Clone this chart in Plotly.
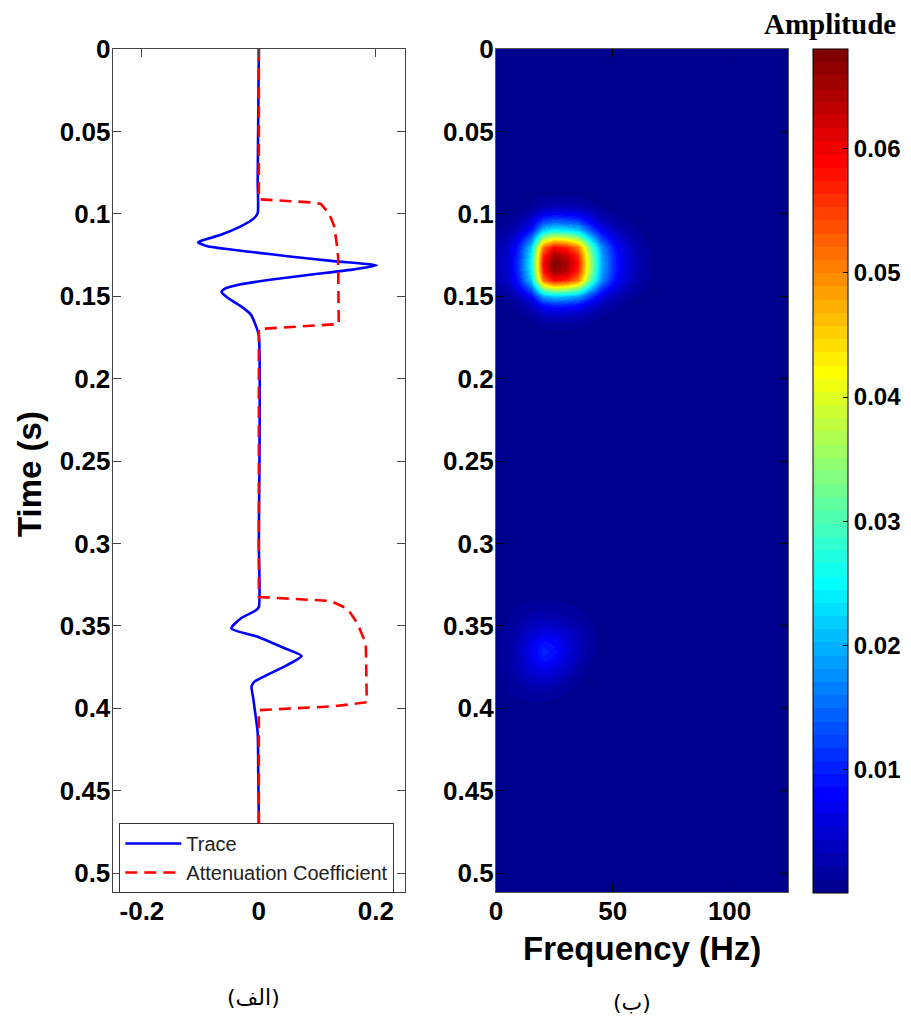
import numpy as np
import plotly.graph_objects as go

# ---------------- data: left panel ----------------
trace_t = [0.000, 0.080, 0.0996, 0.1026, 0.1076, 0.1127, 0.1157, 0.1173, 0.1197, 0.1217,
           0.1237, 0.1257, 0.1287, 0.1313, 0.1337, 0.1367, 0.1397, 0.1428, 0.1458, 0.1474,
           0.1508, 0.1560, 0.1610, 0.1680, 0.1740, 0.300, 0.3386, 0.3406, 0.3456, 0.3516,
           0.3566, 0.3627, 0.3683, 0.3737, 0.3797, 0.3837, 0.3867, 0.3930, 0.4008, 0.4149,
           0.4400, 0.4700, 0.5120]
trace_amp = [0.000, -0.002, -0.002, -0.008, -0.031, -0.065, -0.093, -0.104, -0.088, -0.048,
             0.000, 0.049, 0.128, 0.2017, 0.163, 0.094, 0.026, -0.031, -0.060, -0.064,
             -0.054, -0.031, -0.014, -0.005, 0.000, 0.000, 0.000, -0.005, -0.031, -0.047,
             -0.002, 0.038, 0.073, 0.049, 0.015, -0.007, -0.0125, -0.010, -0.007, -0.002,
             -0.001, 0.000, 0.000]

atten_t = [0.000, 0.0912, 0.0932, 0.0940, 0.0996, 0.1076, 0.1177, 0.1260, 0.1669, 0.1699,
           0.3325, 0.3349, 0.3396, 0.3486, 0.3607, 0.3964, 0.3988, 0.4012, 0.5120]
atten_val = [0.000, 0.000, 0.0946, 0.106, 0.120, 0.129, 0.133, 0.1356, 0.1366, 0.000,
             0.000, 0.123, 0.1516, 0.1687, 0.183, 0.1846, 0.129, 0.000, 0.000]

# ---------------- data: right panel (time-frequency amplitude) ----------------
freq_hz = [0, 5, 10, 15, 20, 25, 30, 35, 40, 45, 50, 55, 60, 65, 70, 75, 80, 85, 90, 95,
           100, 105, 110, 115, 120, 125]
time_step = 0.005
time_s = list(np.round(np.arange(0, 0.5151, time_step), 3))
background_amp = 0.0004

patch1_t0 = 0.090   # rows every 0.005 s, columns 0..65 Hz
patch1 = [
    [0.0004, 0.0004, 0.0004, 0.0006, 0.0013, 0.0015, 0.0014, 0.0013, 0.0008, 0.0004, 0.0004, 0.0004, 0.0004, 0.0004],
    [0.0004, 0.0004, 0.0005, 0.0011, 0.0026, 0.0030, 0.0029, 0.0026, 0.0017, 0.0009, 0.0005, 0.0004, 0.0004, 0.0004],
    [0.0004, 0.0006, 0.0014, 0.0030, 0.0070, 0.0080, 0.0077, 0.0069, 0.0045, 0.0024, 0.0013, 0.0007, 0.0004, 0.0004],
    [0.0007, 0.0011, 0.0027, 0.0055, 0.0131, 0.0150, 0.0144, 0.0129, 0.0084, 0.0044, 0.0024, 0.0013, 0.0007, 0.0004],
    [0.0011, 0.0018, 0.0044, 0.0092, 0.0218, 0.0250, 0.0241, 0.0215, 0.0141, 0.0074, 0.0041, 0.0022, 0.0011, 0.0006],
    [0.0019, 0.0032, 0.0077, 0.0159, 0.0376, 0.0430, 0.0414, 0.0369, 0.0242, 0.0127, 0.0070, 0.0038, 0.0019, 0.0009],
    [0.0026, 0.0044, 0.0105, 0.0218, 0.0516, 0.0590, 0.0568, 0.0507, 0.0332, 0.0175, 0.0096, 0.0053, 0.0026, 0.0013],
    [0.0029, 0.0048, 0.0116, 0.0241, 0.0568, 0.0650, 0.0626, 0.0558, 0.0366, 0.0192, 0.0106, 0.0058, 0.0029, 0.0014],
    [0.0030, 0.0050, 0.0120, 0.0250, 0.0590, 0.0675, 0.0650, 0.0580, 0.0380, 0.0200, 0.0110, 0.0060, 0.0030, 0.0015],
    [0.0029, 0.0049, 0.0118, 0.0244, 0.0577, 0.0660, 0.0636, 0.0567, 0.0372, 0.0195, 0.0108, 0.0059, 0.0029, 0.0015],
    [0.0026, 0.0044, 0.0105, 0.0218, 0.0516, 0.0590, 0.0568, 0.0507, 0.0332, 0.0175, 0.0096, 0.0053, 0.0026, 0.0013],
    [0.0018, 0.0030, 0.0071, 0.0148, 0.0350, 0.0400, 0.0385, 0.0344, 0.0225, 0.0118, 0.0065, 0.0036, 0.0018, 0.0009],
    [0.0010, 0.0016, 0.0039, 0.0081, 0.0192, 0.0220, 0.0212, 0.0189, 0.0124, 0.0065, 0.0036, 0.0020, 0.0010, 0.0005],
    [0.0005, 0.0008, 0.0020, 0.0041, 0.0096, 0.0110, 0.0106, 0.0094, 0.0062, 0.0033, 0.0018, 0.0010, 0.0005, 0.0004],
    [0.0004, 0.0004, 0.0009, 0.0019, 0.0044, 0.0050, 0.0048, 0.0043, 0.0028, 0.0015, 0.0008, 0.0004, 0.0004, 0.0004],
    [0.0004, 0.0004, 0.0004, 0.0009, 0.0022, 0.0025, 0.0024, 0.0021, 0.0014, 0.0007, 0.0004, 0.0004, 0.0004, 0.0004],
    [0.0004, 0.0004, 0.0004, 0.0005, 0.0011, 0.0012, 0.0012, 0.0010, 0.0007, 0.0004, 0.0004, 0.0004, 0.0004, 0.0004],
    [0.0004, 0.0004, 0.0004, 0.0004, 0.0005, 0.0006, 0.0006, 0.0005, 0.0004, 0.0004, 0.0004, 0.0004, 0.0004, 0.0004],
]

patch2_t0 = 0.330   # rows every 0.005 s, columns 0..50 Hz
patch2 = [
    [0.0004, 0.0005, 0.0006, 0.0007, 0.0007, 0.0007, 0.0006, 0.0005, 0.0005, 0.0004, 0.0004],
    [0.0005, 0.0007, 0.0010, 0.0012, 0.0013, 0.0012, 0.0010, 0.0008, 0.0006, 0.0005, 0.0004],
    [0.0006, 0.0009, 0.0014, 0.0018, 0.0020, 0.0019, 0.0016, 0.0012, 0.0008, 0.0005, 0.0004],
    [0.0007, 0.0011, 0.0019, 0.0027, 0.0031, 0.0029, 0.0024, 0.0017, 0.0011, 0.0006, 0.0004],
    [0.0008, 0.0013, 0.0025, 0.0039, 0.0047, 0.0044, 0.0035, 0.0024, 0.0014, 0.0007, 0.0004],
    [0.0009, 0.0015, 0.0031, 0.0052, 0.0068, 0.0064, 0.0048, 0.0031, 0.0017, 0.0008, 0.0004],
    [0.0010, 0.0017, 0.0036, 0.0065, 0.0090, 0.0082, 0.0058, 0.0035, 0.0018, 0.0008, 0.0004],
    [0.0010, 0.0018, 0.0039, 0.0071, 0.0102, 0.0091, 0.0061, 0.0035, 0.0017, 0.0007, 0.0004],
    [0.0010, 0.0018, 0.0038, 0.0067, 0.0094, 0.0082, 0.0054, 0.0030, 0.0014, 0.0006, 0.0004],
    [0.0010, 0.0017, 0.0034, 0.0057, 0.0074, 0.0063, 0.0041, 0.0022, 0.0010, 0.0005, 0.0004],
    [0.0009, 0.0015, 0.0028, 0.0044, 0.0054, 0.0044, 0.0028, 0.0015, 0.0007, 0.0004, 0.0004],
    [0.0008, 0.0013, 0.0022, 0.0031, 0.0035, 0.0028, 0.0018, 0.0010, 0.0005, 0.0004, 0.0004],
    [0.0007, 0.0011, 0.0016, 0.0021, 0.0022, 0.0017, 0.0011, 0.0007, 0.0004, 0.0004, 0.0004],
    [0.0006, 0.0008, 0.0011, 0.0013, 0.0013, 0.0010, 0.0007, 0.0005, 0.0004, 0.0004, 0.0004],
    [0.0005, 0.0006, 0.0007, 0.0008, 0.0008, 0.0006, 0.0005, 0.0004, 0.0004, 0.0004, 0.0004],
    [0.0004, 0.0005, 0.0005, 0.0005, 0.0005, 0.0005, 0.0004, 0.0004, 0.0004, 0.0004, 0.0004],
]

y_tick_vals = [0, 0.05, 0.1, 0.15, 0.2, 0.25, 0.3, 0.35, 0.4, 0.45, 0.5]
y_tick_text = ["0", "0.05", "0.1", "0.15", "0.2", "0.25", "0.3", "0.35", "0.4", "0.45", "0.5"]
x1_tick_vals = [-0.2, 0, 0.2]
x1_tick_text = ["-0.2", "0", "0.2"]
x2_tick_vals = [0, 50, 100]
x2_tick_text = ["0", "50", "100"]
cb_tick_vals = [0.01, 0.02, 0.03, 0.04, 0.05, 0.06]
cb_tick_text = ["0.01", "0.02", "0.03", "0.04", "0.05", "0.06"]

# ---------------- build grid ----------------
z = np.full((len(time_s), len(freq_hz)), background_amp)
r1 = int(round(patch1_t0 / time_step))
z[r1:r1 + len(patch1), 0:len(patch1[0])] = np.array(patch1)
r2 = int(round(patch2_t0 / time_step))
z[r2:r2 + len(patch2), 0:len(patch2[0])] = np.array(patch2)

# MATLAB jet(64) stepped colour scale
def jet64():
    cols = []
    for i in range(64):
        if i < 8:
            r, g, b = 0, 0, (9 + i) / 16
        elif i < 24:
            r, g, b = 0, (i - 7) / 16, 1
        elif i < 40:
            r, g, b = (i - 23) / 16, 1, 1 - (i - 23) / 16
        elif i < 56:
            r, g, b = 1, 1 - (i - 39) / 16, 0
        else:
            r, g, b = 1 - (i - 55) / 16, 0, 0
        cols.append("rgb(%d,%d,%d)" % (round(r * 255), round(g * 255), round(b * 255)))
    scale = []
    for i, c in enumerate(cols):
        scale.append([i / 64, c])
        scale.append([(i + 1) / 64, c])
    return scale

# page has an 8px body margin: work in screen pixels and shift
OFF = 8
W, H = 911 - 2 * OFF, 1023 - 2 * OFF
def px(x):
    return (x - OFF) / W
def py(y):
    return 1 - (y - OFF) / H

TOP, BOT = 49, 892
tick_font = dict(family="Liberation Sans, Arial", size=26, color="black", weight="bold")
cb_font = dict(family="Liberation Sans, Arial", size=24, color="black", weight="bold")
title_font = dict(family="Liberation Sans, Arial", size=33, color="black", weight="bold")

fig = go.Figure()
fig.add_trace(go.Scatter(x=trace_amp, y=trace_t, mode="lines", name="Trace",
                         line=dict(color="#0000ff", width=2.6, shape="spline", smoothing=0.6),
                         xaxis="x", yaxis="y"))
fig.add_trace(go.Scatter(x=atten_val, y=atten_t, mode="lines", name="Attenuation Coefficient",
                         line=dict(color="#ff0000", width=2.6, dash="12px,7px"), xaxis="x", yaxis="y"))
fig.add_trace(go.Heatmap(x=freq_hz, y=time_s, z=z, xaxis="x2", yaxis="y2", zsmooth="best",
                         colorscale=jet64(), zmin=0.0001, zmax=0.068, showscale=True,
                         colorbar=dict(x=px(813), xanchor="left", xref="paper",
                                       y=py((TOP + 893) / 2), yanchor="middle",
                                       len=(893 - TOP) / H, lenmode="fraction",
                                       thickness=35, thicknessmode="pixels",
                                       xpad=0, ypad=0, outlinewidth=1, outlinecolor="black",
                                       tickvals=cb_tick_vals, ticktext=cb_tick_text,
                                       ticks="inside", ticklen=5, tickcolor="black",
                                       tickfont=cb_font)))

axis_common = dict(showgrid=False, zeroline=False, showline=True, mirror="ticks",
                   ticks="inside", ticklen=8, tickwidth=1.2, linewidth=1.3,
                   tickfont=tick_font)

fig.update_layout(
    width=W, height=H, margin=dict(l=0, r=0, t=0, b=0, pad=0, autoexpand=False),
    paper_bgcolor="white", plot_bgcolor="white",
    xaxis=dict(domain=[px(112.7), px(405)], range=[-0.25, 0.25], anchor="y",
               tickvals=x1_tick_vals, ticktext=x1_tick_text,
               linecolor="#444", tickcolor="#444", ticklabelstandoff=-4, **axis_common),
    yaxis=dict(domain=[py(BOT), py(TOP)], range=[0.5115, 0], anchor="x",
               tickvals=y_tick_vals, ticktext=y_tick_text,
               linecolor="#444", tickcolor="#444", ticklabelstandoff=-4, **axis_common),
    xaxis2=dict(domain=[px(496), px(788)], range=[0, 125], anchor="y2",
                tickvals=x2_tick_vals, ticktext=x2_tick_text,
                linecolor="#555", tickcolor="black", ticklabelstandoff=-4, **axis_common),
    yaxis2=dict(domain=[py(BOT), py(TOP)], range=[0.5115, 0], anchor="x2",
                tickvals=y_tick_vals, ticktext=y_tick_text,
                linecolor="#555", tickcolor="black", ticklabelstandoff=-4, **axis_common),
    showlegend=True,
    legend=dict(x=px(119.3), y=py(823), xanchor="left", yanchor="top",
                bgcolor="white", bordercolor="#333", borderwidth=1,
                font=dict(family="Liberation Sans, Arial", size=20, color="#222"),
                itemwidth=56, tracegroupgap=0),
    annotations=[
        dict(text="Time (s)", x=px(29), y=py(474), xref="paper", yref="paper",
             textangle=-90, showarrow=False, font=title_font,
             xanchor="center", yanchor="middle"),
        dict(text="Frequency (Hz)", x=px(642), y=py(948), xref="paper", yref="paper",
             showarrow=False, font=title_font, xanchor="center", yanchor="middle"),
        dict(text="Amplitude", x=px(830), y=py(24), xref="paper", yref="paper",
             showarrow=False, xanchor="center", yanchor="middle",
             font=dict(family="Liberation Serif, Times New Roman", size=29, color="black", weight="bold")),
        dict(text="(الف)", x=px(253), y=py(997), xref="paper", yref="paper",
             showarrow=False, xanchor="center", yanchor="middle",
             font=dict(family="DejaVu Sans", size=22, color="black")),
        dict(text="(ب)", x=px(632), y=py(1002), xref="paper", yref="paper",
             showarrow=False, xanchor="center", yanchor="middle",
             font=dict(family="DejaVu Sans", size=22, color="black")),
    ],
)

fig.write_html("out.html")
